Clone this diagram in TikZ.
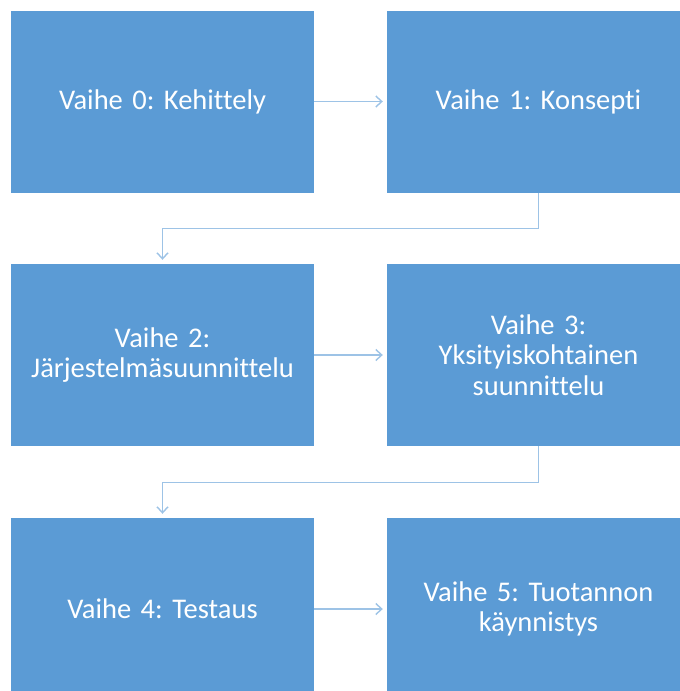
\documentclass[tikz,border=0pt]{standalone}
\usepackage{fontspec}
\setmainfont[Ligatures={NoCommon}]{Carlito}
\usetikzlibrary{arrows.meta}
\definecolor{boxblue}{HTML}{5B9BD5}
\definecolor{lineblue}{HTML}{9DC3E6}
\frenchspacing
\tikzset{
  phase/.style={fill=boxblue, draw=none, minimum width=303pt, minimum height=182pt,
    inner sep=0pt, text=white, align=center, text width=300pt,
    font=\fontsize{28.5}{30.5}\selectfont},
  conn/.style={draw=lineblue, line width=1.4pt, -{Straight Barb[length=6pt,width=11pt]}, shorten >=4pt}
}
\begin{document}
\begin{tikzpicture}[x=1pt,y=-1pt]
\useasboundingbox (0,0) rectangle (680,691);
\clip (0,0) rectangle (680,691);
\node[phase] (b0) at (162.5,101.5) {Vaihe 0: Kehittely};
\node[phase] (b1) at (538.5,101.5) {Vaihe 1: Konsepti};
\node[phase] (b2) at (162.5,355) {Vaihe 2:\\Järjestelmäsuunnittelu};
\node[phase] (b3) at (538.5,355) {Vaihe 3:\\Yksityiskohtainen\\suunnittelu};
\node[phase] (b4) at (162.5,609) {Vaihe 4: Testaus};
\node[phase] (b5) at (538.5,609) {Vaihe 5: Tuotannon\\käynnistys};
\draw[conn] (b0.east) -- (b1.west);
\draw[conn] (b2.east) -- (b3.west);
\draw[conn] (b4.east) -- (b5.west);
\draw[conn] (b1.south) -- ++(0,36) -| (b2.north);
\draw[conn] (b3.south) -- ++(0,36) -| (b4.north);
\end{tikzpicture}
\end{document}
